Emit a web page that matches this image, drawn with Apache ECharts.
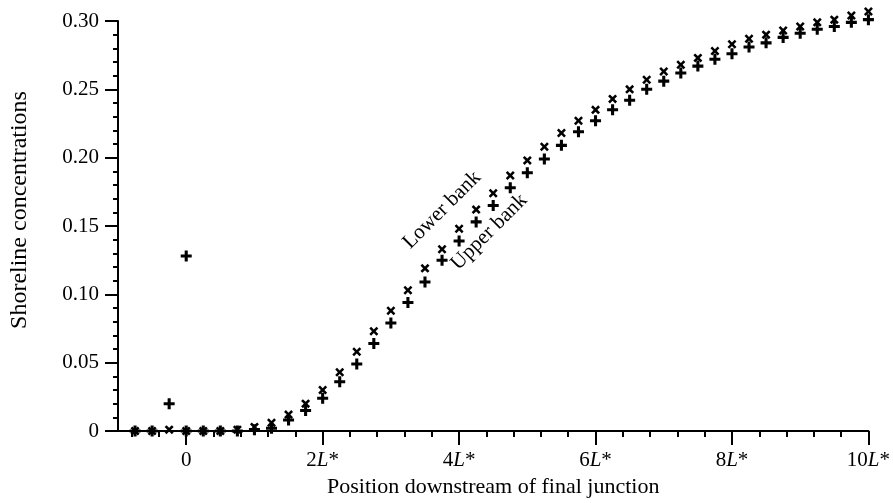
<!DOCTYPE html>
<html>
<head>
<meta charset="utf-8">
<script src="https://cdn.jsdelivr.net/npm/echarts@6/dist/echarts.min.js"></script>
<style>
html,body{margin:0;padding:0;background:#fff;}
#c{width:893px;height:503px;}
</style>
</head>
<body>
<div id="c"></div>
<script>
// Positions downstream (in units of L*)
const positions = [-0.75,-0.5,-0.25,0,0.25,0.5,0.75,1.0,1.25,1.5,1.75,2.0,2.25,2.5,2.75,3.0,3.25,3.5,3.75,4.0,4.25,4.5,4.75,5.0,5.25,5.5,5.75,6.0,6.25,6.5,6.75,7.0,7.25,7.5,7.75,8.0,8.25,8.5,8.75,9.0,9.25,9.5,9.75,10.0];
const lowerBank = [0,0,0.001,0,0,0,0.001,0.003,0.006,0.012,0.020,0.030,0.043,0.058,0.073,0.088,0.103,0.119,0.133,0.148,0.162,0.174,0.187,0.198,0.208,0.218,0.227,0.235,0.243,0.250,0.257,0.263,0.268,0.273,0.278,0.283,0.287,0.290,0.293,0.296,0.299,0.301,0.304,0.307];
const upperBank = [0,0,0.020,0,0,0,0,0.001,0.002,0.008,0.015,0.024,0.036,0.049,0.064,0.079,0.094,0.109,0.125,0.139,0.153,0.165,0.178,0.189,0.199,0.209,0.219,0.227,0.235,0.242,0.250,0.256,0.262,0.267,0.272,0.276,0.281,0.284,0.288,0.291,0.294,0.296,0.299,0.301];
const upperExtra = [[0, 0.128]];
const xMajorTicks = [0,2,4,6,8,10];
const xMinorTicks = [-0.8,-0.4,0.4,0.8,1.2,1.6,2.4,2.8,3.2,3.6,4.4,4.8,5.2,5.6,6.4,6.8,7.2,7.6,8.4,8.8,9.2,9.6];
const yTicks = [0,0.05,0.10,0.15,0.20,0.25,0.30];
const labels = [
  {text:'Lower bank', at:[3.75, 0.1617]},
  {text:'Upper bank', at:[4.44, 0.1456]}
];

const FONT = '"Liberation Serif", "Times New Roman", serif';
const plusPath = 'path://M3.6,0H6.4V10H3.6Z M0,3.6H10V6.4H0Z';
const crossPath = 'path://M2,0L5,3L8,0L10,2L7,5L10,8L8,10L5,7L2,10L0,8L3,5L0,2Z';

const chart = echarts.init(document.getElementById('c'), null, {renderer:'canvas'});
const lowerData = positions.map((p,i)=>[p, lowerBank[i]]);
const upperData = positions.map((p,i)=>[p, upperBank[i]]).concat(upperExtra);

chart.setOption({
  animation:false,
  backgroundColor:'#fff',
  grid:{left:116, right:23, top:21, bottom:72},
  xAxis:[{
    type:'value', min:-1, max:10,
    position:'bottom',
    axisLine:{show:true, onZero:false, lineStyle:{color:'#000', width:2}},
    axisTick:{show:true, inside:false, length:14, customValues:xMajorTicks, lineStyle:{color:'#000', width:2}},
    axisLabel:{show:true, customValues:xMajorTicks, margin:19, color:'#000', fontFamily:FONT, fontSize:21,
      formatter:function(v){ return v===0 ? '{n|0}' : '{n|'+v+'}{i|L}{n|*}'; },
      rich:{n:{fontFamily:FONT, fontSize:21, color:'#000'}, i:{fontFamily:FONT, fontSize:21, fontStyle:'italic', color:'#000'}}},
    splitLine:{show:false},
    name:'Position downstream of final junction', nameLocation:'middle', nameGap:40,
    nameTextStyle:{fontFamily:FONT, fontSize:22, color:'#000'}
  },{
    type:'value', min:-1, max:10, position:'bottom', offset:0,
    axisLine:{show:false},
    axisTick:{show:true, inside:false, length:6, customValues:xMinorTicks, lineStyle:{color:'#000', width:2}},
    axisLabel:{show:false},
    splitLine:{show:false}
  }],
  yAxis:{
    type:'value', min:0, max:0.30, interval:0.05,
    axisLine:{show:true, onZero:false, lineStyle:{color:'#000', width:2}},
    axisTick:{show:true, inside:false, length:13, lineStyle:{color:'#000', width:2}},
    minorTick:{show:true, splitNumber:5, length:5, lineStyle:{color:'#000', width:2}},
    axisLabel:{margin:19, color:'#000', fontFamily:FONT, fontSize:21,
      customValues:yTicks,
      formatter:function(v){ return v===0 ? '0' : v.toFixed(2); }},
    splitLine:{show:false},
    name:'Shoreline concentrations', nameLocation:'middle', nameGap:86,
    nameTextStyle:{fontFamily:FONT, fontSize:24, color:'#000', padding:[0,0,0,32]}
  },
  series:[{
    name:'Lower bank', type:'scatter', xAxisIndex:0, data:lowerData, clip:false,
    symbol:crossPath, symbolSize:9, itemStyle:{color:'#000', opacity:1}
  },{
    name:'Upper bank', type:'scatter', xAxisIndex:0, data:upperData, clip:false,
    symbol:plusPath, symbolSize:11, itemStyle:{color:'#000', opacity:1}
  }]
});

const g = labels.map(l=>{
  const p = chart.convertToPixel({xAxisIndex:0, yAxisIndex:0}, l.at);
  return {type:'text', x:p[0], y:p[1], rotation:Math.PI/4,
    style:{text:l.text, fill:'#000', font:'21px '+FONT, align:'center', verticalAlign:'middle'}};
});
chart.setOption({graphic:g});
</script>
</body>
</html>
